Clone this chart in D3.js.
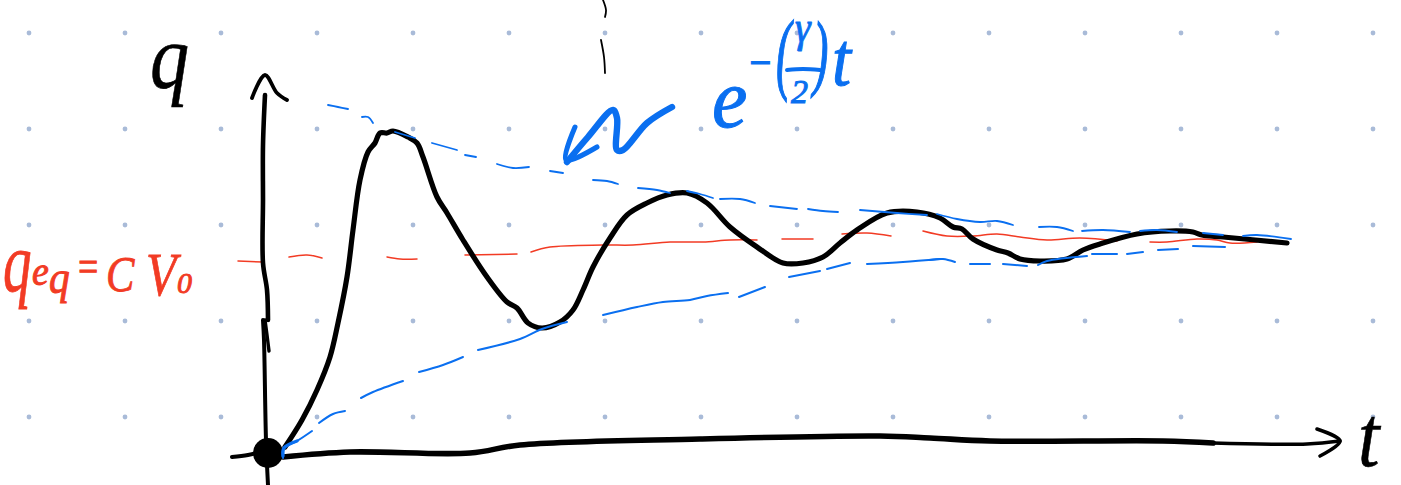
<!DOCTYPE html>
<html>
<head>
<meta charset="utf-8">
<script src="https://cdn.jsdelivr.net/npm/d3@7"></script>
<style>
  html, body { margin: 0; padding: 0; background: #fff; overflow: hidden; }
  text { font-family: "Liberation Serif", serif; font-style: italic; }
</style>
</head>
<body>
<script>
'use strict';

// grid dots of the notebook page
const gridT = [-239, -143, -47, 49, 145, 241, 337, 433, 529, 625, 721, 817, 913, 1009, 1105];
const gridQ = [420, 324, 228, 132, 36];

// solid black charge curve q(t)
const chargeT = [17, 34, 49, 62, 70, 79, 85, 92, 100, 107, 112, 119, 125, 140, 149, 155, 169, 179, 195, 219, 239, 249, 260, 274, 292, 305, 315, 325, 342, 359, 379, 399, 419, 439, 462, 489, 515, 535, 555, 572, 589, 619, 649, 672, 685, 694, 705, 729, 740, 752, 772, 799, 815, 832, 869, 902, 925, 934, 955, 1019];
const chargeQ = [6, 33, 63, 96, 130, 176, 223, 273, 301, 310, 320, 320, 322, 316, 310, 296, 256, 240, 213, 176, 151, 145, 130, 125, 131, 143, 163, 186, 215, 238, 250, 258, 260, 250, 226, 206, 190, 190, 196, 210, 223, 240, 241, 235, 226, 224, 214, 203, 200, 194, 192, 194, 203, 209, 219, 222, 221, 218, 216, 210];

// dashed blue envelope, upper branch: one list per dash
const upperDashes = [
  [[60, 348], [70, 346], [80, 344]],
  [[94, 336], [100, 336], [105, 330]],
  [[127, 321], [147, 315]],
  [[164, 310], [189, 303]],
  [[197, 298], [208, 296]],
  [[229, 289], [245, 285], [261, 286]],
  [[282, 282], [295, 280]],
  [[325, 273], [339, 272], [350, 269]],
  [[370, 265], [389, 263], [402, 260]],
  [[419, 262], [432, 259], [445, 255]],
  [[452, 254], [472, 254], [487, 250]],
  [[502, 247], [529, 244]],
  [[540, 244], [555, 242], [570, 241]],
  [[592, 243], [629, 240], [659, 238]],
  [[669, 239], [689, 234], [712, 231], [729, 232], [745, 228]],
  [[771, 226], [789, 226], [805, 222]],
  [[814, 222], [835, 223], [862, 221]],
  [[872, 222], [889, 223], [909, 221]],
  [[935, 220], [955, 218]],
  [[975, 217], [989, 218], [1023, 214]]
];

// dashed blue envelope, lower branch
const lowerDashes = [
  [[15, -5], [16, 5], [29, 12], [44, 22]],
  [[51, 30], [65, 39], [77, 42]],
  [[93, 55], [105, 61], [135, 72]],
  [[151, 81], [175, 88], [195, 96]],
  [[210, 103], [252, 114], [274, 124], [299, 131]],
  [[335, 138], [369, 146], [395, 151], [422, 153], [439, 157], [460, 160]],
  [[471, 156], [497, 166]],
  [[521, 176], [552, 182]],
  [[559, 184], [582, 190]],
  [[599, 189], [635, 191], [672, 194]],
  [[662, 193], [675, 194], [687, 191]],
  [[702, 189], [722, 189]],
  [[735, 189], [759, 187]],
  [[770, 188], [779, 192], [819, 197]],
  [[824, 199], [849, 199]],
  [[859, 199], [875, 201]],
  [[890, 203], [910, 204]],
  [[925, 207], [957, 206]]
];

// dashed red level q_eq
const levelDashes = [
  [[-30, 192], [-5, 191]],
  [[21, 196], [39, 198], [54, 195]],
  [[119, 196], [132, 194], [149, 194]],
  [[197, 198], [249, 199]],
  [[263, 201], [282, 206], [335, 208], [365, 208], [402, 211], [435, 211], [462, 213], [489, 213]],
  [[514, 214], [545, 214]],
  [[574, 219], [599, 220], [623, 217]],
  [[655, 222], [679, 217], [705, 217], [729, 219], [752, 216], [779, 213], [812, 215], [849, 212]],
  [[882, 211], [899, 211], [929, 214], [949, 213], [962, 210], [989, 211]]
];

// hand drawn axes
const axisUp = [[-3, 358], [-5, 308], [-5, 253], [-5, 190], [-1, 163], [0, 133]];
const axisUpLow = [[-5, 133], [-4, 113], [-2, 13], [0, -32]];
const axisUpExtra = [[-3, 133], [-1, 118], [1, 102]];
const arrowUp = [[-16, 355], [-3, 378], [9, 360], [19, 353]];
const axisRight = [[15, -4], [82, 1], [202, 0], [252, 8], [432, 14], [612, 17], [662, 15], [722, 12], [895, 12], [945, 10]];
const axisRightTip = [[945, 10], [1039, 9], [1072, 12]];
const axisLeftStub = [[-36, -4], [-20, -2], [-4, 2]];
const arrowRight = [[1049, 24], [1072, 12], [1052, -3]];

// pointer from the formula to the envelope
const pointerT = [404, 379, 355, 349, 349, 345, 320, 299];
const pointerQ = [346, 330, 303, 303, 335, 343, 316, 291];
const pointerHead = [[307, 326], [298, 293], [329, 306]];

// fraction bar inside the exponent
const fractionBar = [[519, 383], [535, 384], [552, 383]];

// two stray pen strokes at the top of the page
const strayStrokes = [
  [[335, 453], [338, 443], [337, 436]],
  [[333, 413], [336, 396], [337, 380]]
];

const width = 1401;
const height = 485;
const black = '#000000';
const blue = '#0a6ff0';
const red = '#f23b24';

const svg = d3.select('body')
  .append('svg')
  .attr('width', width)
  .attr('height', height)
  .style('display', 'block');

// origin of the sketch sits at pixel 268,453
const xScale = d3.scaleLinear().domain([-268, 1133]).range([0, width]);
const yScale = d3.scaleLinear().domain([-32, 453]).range([height, 0]);

const pen = d3.line()
  .x((d) => xScale(d[0]))
  .y((d) => yScale(d[1]))
  .curve(d3.curveCatmullRom.alpha(0.5));

function drawStroke(points, color, w) {
  svg.append('path')
    .attr('d', pen(points))
    .attr('fill', 'none')
    .attr('stroke', color)
    .attr('stroke-width', w)
    .attr('stroke-linecap', 'round')
    .attr('stroke-linejoin', 'round');
}

// x, y is the baseline start, sx stretches the glyph to the hand drawn width
function addLabel(str, x, y, size, color, sx, sw) {
  svg.append('text')
    .attr('transform', 'translate(' + x + ',' + y + ') scale(' + sx + ',1)')
    .attr('font-size', size)
    .attr('fill', color)
    .attr('stroke', color)
    .attr('stroke-width', sw)
    .text(str);
}

// grid
gridQ.forEach((q) => {
  svg.selectAll(null)
    .data(gridT)
    .enter()
    .append('circle')
    .attr('cx', (t) => xScale(t))
    .attr('cy', yScale(q))
    .attr('r', 2.4)
    .attr('fill', '#a9bbd8');
});

levelDashes.forEach((d) => drawStroke(d, red, 1.5));

// axes
drawStroke(axisUp, black, 4.6);
drawStroke(axisUpLow, black, 4);
drawStroke(axisUpExtra, black, 3.4);
drawStroke(arrowUp, black, 3.8);
drawStroke(axisLeftStub, black, 4);
drawStroke(axisRight, black, 5.6);
drawStroke(axisRightTip, black, 3.4);
drawStroke(arrowRight, black, 3.6);

svg.append('circle')
  .attr('cx', xScale(0))
  .attr('cy', yScale(0))
  .attr('r', 15)
  .attr('fill', black);

strayStrokes.forEach((d) => drawStroke(d, black, 1.8));

drawStroke(chargeT.map((t, i) => [t, chargeQ[i]]), black, 5.2);

upperDashes.forEach((d) => drawStroke(d, blue, 1.8));
lowerDashes.forEach((d) => drawStroke(d, blue, 2));
drawStroke([[15, -3], [16, 5], [29, 12]], blue, 3.4);

drawStroke(pointerT.map((t, i) => [t, pointerQ[i]]), blue, 6.4);
drawStroke(pointerHead, blue, 5);
drawStroke(fractionBar, blue, 4);

// axis names
addLabel('q', 150, 88, 92, black, 0.85, 0.6);
addLabel('t', 1358, 466, 86, black, 0.9, 0.6);

// q_eq = C V_0
addLabel('q', 3, 291, 84, red, 0.68, 0.8);
addLabel('e', 32, 285, 42, red, 0.9, 1);
addLabel('q', 49, 293, 46, red, 0.9, 1);
addLabel('=', 76, 281, 44, red, 0.8, 1.2);
addLabel('C', 106, 291, 50, red, 0.85, 0.8);
addLabel('V', 146, 295, 62, red, 0.8, 0.8);
addLabel('0', 177, 293, 30, red, 1, 0.9);

// e^-(gamma/2)t
addLabel('e', 712, 127, 84, blue, 0.95, 1);
addLabel('\u2212', 747, 78, 46, blue, 0.85, 1.2);
addLabel('(', 776, 83, 92, blue, 0.5, 1.4);
addLabel('\u03b3', 795, 42, 44, blue, 0.9, 1);
addLabel('2', 791, 103, 34, blue, 1, 1);
addLabel(')', 813, 80, 84, blue, 0.55, 1.4);
addLabel('t', 832, 85, 76, blue, 0.9, 1);
</script>
</body>
</html>
